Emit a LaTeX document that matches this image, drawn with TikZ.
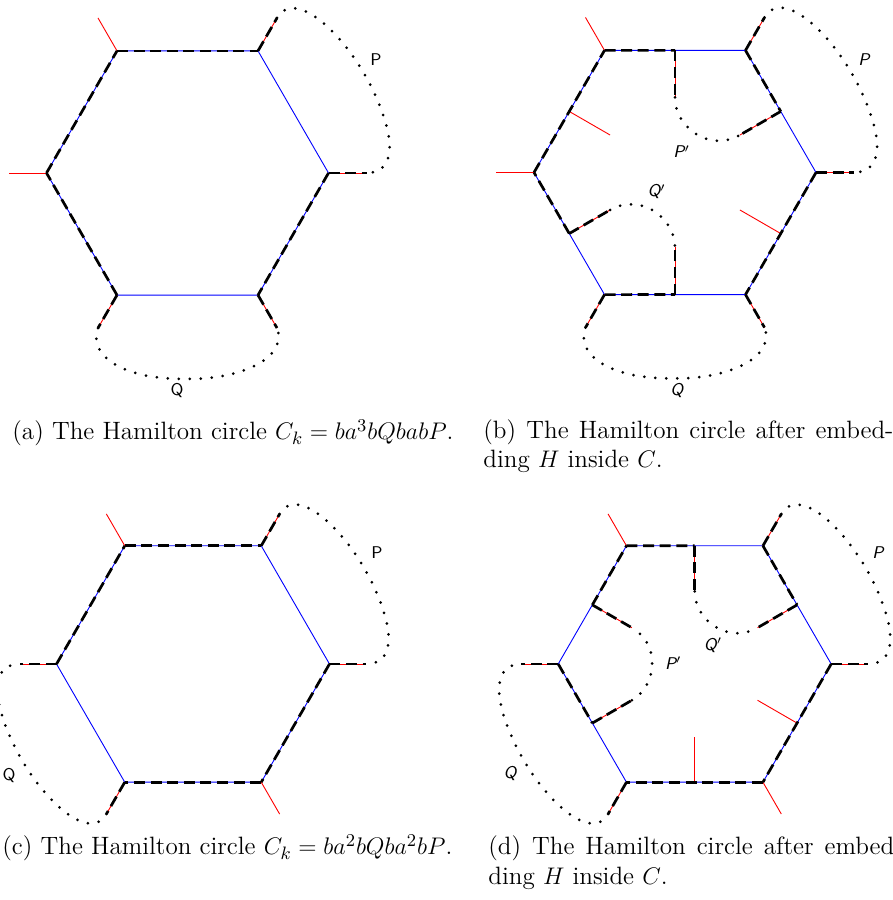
\documentclass[tikz,border=0pt]{standalone}
\usepackage{amsmath}
\usepackage{tikz}

\newcommand{\hexpoints}{%
  \coordinate (v0) at (0:141);
  \coordinate (v1) at (60:141);
  \coordinate (v2) at (120:141);
  \coordinate (v3) at (180:141);
  \coordinate (v4) at (240:141);
  \coordinate (v5) at (300:141);
  \coordinate (s0) at (0:179);
  \coordinate (s1) at (60:179);
  \coordinate (s2) at (120:179);
  \coordinate (s3) at (180:179);
  \coordinate (s4) at (240:179);
  \coordinate (s5) at (300:179);
  \coordinate (m0) at (30:122.1);
  \coordinate (m1) at (90:122.1);
  \coordinate (m2) at (150:122.1);
  \coordinate (m3) at (210:122.1);
  \coordinate (m4) at (270:122.1);
  \coordinate (m5) at (330:122.1);
  \coordinate (n0) at (30:75);
  \coordinate (n1) at (90:75);
  \coordinate (n2) at (150:75);
  \coordinate (n3) at (210:75);
  \coordinate (n4) at (270:75);
  \coordinate (n5) at (330:75);
}

\begin{document}
\begin{tikzpicture}[x=0.5pt, y=0.5pt,
    hexedge/.style={blue, line width=0.45pt},
    leg/.style={red, line width=0.45pt},
    cyc/.style={black, line width=1.35pt, dash pattern=on 5.5pt off 2.8pt},
    loopline/.style={black, line width=1.5pt, line cap=round, dash pattern=on 0pt off 5.5pt},
    lab/.style={font=\fontsize{8.5}{10}\sffamily},
    labsl/.style={font=\fontsize{8.5}{10}\sffamily\slshape},
    capt/.style={font=\fontsize{12.55}{14.5}\selectfont, inner sep=0pt, anchor=base west}]
    \useasboundingbox (0,0) rectangle (893,900);

    \begin{scope}[shift={(187.5,727)}, name prefix=a-]
      \hexpoints
      \draw[hexedge] (v0) -- (v1) -- (v2) -- (v3) -- (v4) -- (v5) -- cycle;
      \draw[leg] (v0) -- (s0);
      \draw[leg] (v1) -- (s1);
      \draw[leg] (v2) -- (s2);
      \draw[leg] (v3) -- (s3);
      \draw[leg] (v4) -- (s4);
      \draw[leg] (v5) -- (s5);
      \draw[cyc] (v2) -- (v1);
      \draw[cyc] (v1) -- (s1);
      \draw[cyc] (v0) -- (s0);
      \draw[cyc] (v0) -- (v5);
      \draw[cyc] (v5) -- (s5);
      \draw[cyc] (v4) -- (s4);
      \draw[cyc] (v4) -- (v3);
      \draw[cyc] (v3) -- (v2);
      \draw[loopline] (s1) .. controls (109.5,189.6) and (172,126) .. (195,60) .. controls (207,27) and (205,0) .. (s0);
      \draw[loopline] (s4) .. controls (-100,-185) and (-60,-207) .. (0,-206) .. controls (60,-206) and (100,-182) .. (s5);
      \node[lab] (P) at (188.5,113) {P};
      \node[lab] (Q) at (-10.5,-217) {Q};
    \end{scope}

    \begin{scope}[shift={(675,727.5)}, name prefix=b-]
      \hexpoints
      \draw[hexedge] (v0) -- (v1) -- (v2) -- (v3) -- (v4) -- (v5) -- cycle;
      \draw[leg] (v0) -- (s0);
      \draw[leg] (v1) -- (s1);
      \draw[leg] (v2) -- (s2);
      \draw[leg] (v3) -- (s3);
      \draw[leg] (v4) -- (s4);
      \draw[leg] (v5) -- (s5);
      \draw[leg] (m0) -- (n0);
      \draw[leg] (m1) -- (n1);
      \draw[leg] (m2) -- (n2);
      \draw[leg] (m3) -- (n3);
      \draw[leg] (m4) -- (n4);
      \draw[leg] (m5) -- (n5);
      \draw[cyc] (v2) -- (m1);
      \draw[cyc] (m1) -- (n1);
      \draw[cyc] (v1) -- (m0);
      \draw[cyc] (m0) -- (n0);
      \draw[cyc] (v1) -- (s1);
      \draw[cyc] (v0) -- (s0);
      \draw[cyc] (v0) -- (v5);
      \draw[cyc] (v5) -- (s5);
      \draw[cyc] (v4) -- (s4);
      \draw[cyc] (v4) -- (m4);
      \draw[cyc] (m4) -- (n4);
      \draw[cyc] (m3) -- (n3);
      \draw[cyc] (m3) -- (v3);
      \draw[cyc] (v3) -- (v2);
      \draw[loopline] (s1) .. controls (109.5,189.6) and (172,126) .. (195,60) .. controls (207,27) and (205,0) .. (s0);
      \draw[loopline] (s4) .. controls (-100,-185) and (-60,-207) .. (0,-206) .. controls (60,-206) and (100,-182) .. (s5);
      \draw[loopline] (n1) .. controls (0,45) and (35,20) .. (n0);
      \draw[loopline] (n3) .. controls (-35,-20) and (0,-45) .. (n4);
      \node[labsl] (P) at (189,112.5) {P};
      \node[labsl] (Q) at (1.7,-217.5) {Q};
      \node[labsl] (Pp) at (6.7,20.8) {P$'$};
      \node[labsl] (Qp) at (-18.3,-19.2) {Q$'$};
    \end{scope}

    \begin{scope}[shift={(193,236)}, scale=0.968, name prefix=c-]
      \hexpoints
      \draw[hexedge] (v0) -- (v1) -- (v2) -- (v3) -- (v4) -- (v5) -- cycle;
      \draw[leg] (v0) -- (s0);
      \draw[leg] (v1) -- (s1);
      \draw[leg] (v2) -- (s2);
      \draw[leg] (v3) -- (s3);
      \draw[leg] (v4) -- (s4);
      \draw[leg] (v5) -- (s5);
      \draw[cyc] (v2) -- (v1);
      \draw[cyc] (v1) -- (s1);
      \draw[cyc] (v0) -- (s0);
      \draw[cyc] (v0) -- (v5);
      \draw[cyc] (v5) -- (v4);
      \draw[cyc] (v4) -- (s4);
      \draw[cyc] (v3) -- (s3);
      \draw[cyc] (v3) -- (v2);
      \draw[loopline] (s1) .. controls (109.5,189.6) and (172,126) .. (195,60) .. controls (207,27) and (205,0) .. (s0);
      \draw[loopline] (s4) .. controls (-109.5,-189.6) and (-172,-126) .. (-195,-60) .. controls (-207,-27) and (-205,0) .. (s3);
      \node[lab] (P) at (190,114.7) {P};
      \node[lab] (Q) at (-190,-114.7) {Q};
    \end{scope}

    \begin{scope}[shift={(694.7,236)}, scale=0.968, name prefix=d-]
      \hexpoints
      \draw[hexedge] (v0) -- (v1) -- (v2) -- (v3) -- (v4) -- (v5) -- cycle;
      \draw[leg] (v0) -- (s0);
      \draw[leg] (v1) -- (s1);
      \draw[leg] (v2) -- (s2);
      \draw[leg] (v3) -- (s3);
      \draw[leg] (v4) -- (s4);
      \draw[leg] (v5) -- (s5);
      \draw[leg] (m0) -- (n0);
      \draw[leg] (m1) -- (n1);
      \draw[leg] (m2) -- (n2);
      \draw[leg] (m3) -- (n3);
      \draw[leg] (m4) -- (n4);
      \draw[leg] (m5) -- (n5);
      \draw[cyc] (v2) -- (m1);
      \draw[cyc] (m1) -- (n1);
      \draw[cyc] (v1) -- (m0);
      \draw[cyc] (m0) -- (n0);
      \draw[cyc] (v1) -- (s1);
      \draw[cyc] (v0) -- (s0);
      \draw[cyc] (v0) -- (v5);
      \draw[cyc] (v5) -- (v4);
      \draw[cyc] (v4) -- (s4);
      \draw[cyc] (v3) -- (s3);
      \draw[cyc] (v3) -- (m3);
      \draw[cyc] (m3) -- (n3);
      \draw[cyc] (m2) -- (n2);
      \draw[cyc] (m2) -- (v2);
      \draw[loopline] (s1) .. controls (109.5,189.6) and (172,126) .. (195,60) .. controls (207,27) and (205,0) .. (s0);
      \draw[loopline] (s4) .. controls (-109.5,-189.6) and (-172,-126) .. (-195,-60) .. controls (-207,-27) and (-205,0) .. (s3);
      \draw[loopline] (n1) .. controls (0,45) and (35,20) .. (n0);
      \draw[loopline] (n3) .. controls (-39,-22.5) and (-34.8,20.3) .. (n2);
      \node[labsl] (P) at (189.4,114.7) {P};
      \node[labsl] (Q) at (-190.8,-112.6) {Q};
      \node[labsl] (Qp) at (18.9,19.6) {Q$'$};
      \node[labsl] (Pp) at (-22.1,0.7) {P$'$};
    \end{scope}

    \node[capt] (capa) at (12,460) {(a) The Hamilton circle $C_k = ba^3bQbabP$.};
    \node[capt, text width=205pt, align=justify] (capb) at (483,461) {(b) The Hamilton circle after embed-\linebreak ding $H$ inside $C$.};
    \node[capt] (capc) at (2,45) {(c) The Hamilton circle $C_k = ba^2bQba^2bP$.};
    \node[capt, text width=207pt, align=justify] (capd) at (488,45) {(d) The Hamilton circle after embed-\linebreak ding $H$ inside $C$.};
\end{tikzpicture}
\end{document}
